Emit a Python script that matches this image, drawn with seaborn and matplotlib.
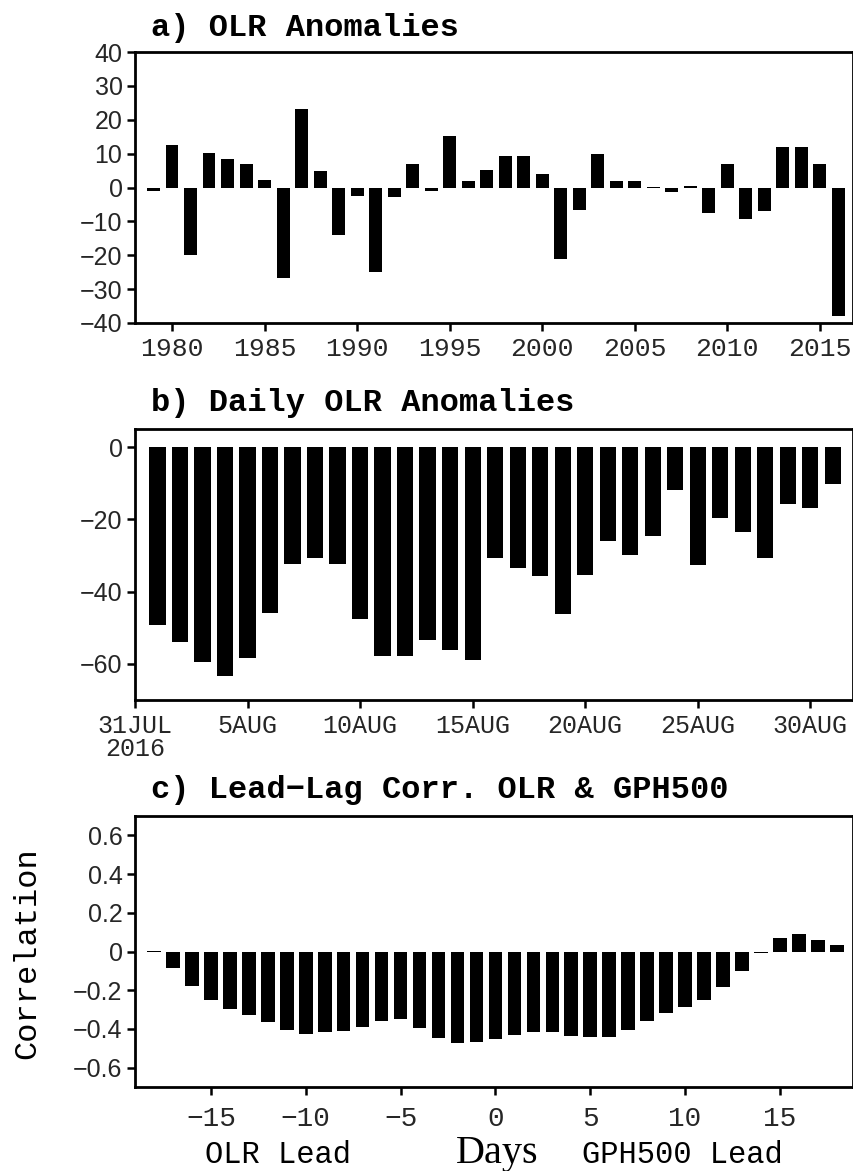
import numpy as np
import pandas as pd
import matplotlib
matplotlib.use("Agg")
import matplotlib.pyplot as plt
import seaborn as sns

# ---------------- data ----------------
years = list(range(1979, 2017))
olr_annual = [-1.0, 12.5, -20.0, 10.2, 8.5, 6.8, 2.2, -26.8, 23.3, 5.0,
              -13.9, -2.6, -25.0, -2.8, 7.0, -1.1, 15.2, 1.8, 5.3, 9.4,
              9.4, 4.1, -21.2, -6.5, 10.0, 1.8, 2.0, 0.2, -1.4, 0.3,
              -7.5, 7.0, -9.2, -6.8, 12.0, 12.0, 7.0, -37.8]

days_aug = list(range(1, 32))  # 1AUG .. 31AUG (0 = 31JUL)
olr_daily = [-49.3, -53.9, -59.6, -63.4, -58.3, -46.0, -32.3, -30.8, -32.4, -47.6,
             -57.8, -57.8, -53.4, -56.1, -58.8, -30.6, -33.5, -35.8, -46.3, -35.5,
             -25.9, -29.9, -24.7, -11.8, -32.7, -19.6, -23.5, -30.7, -15.8, -16.8,
             -10.1]
daily_tick_pos = [0, 5, 10, 15, 20, 25, 30]
daily_tick_labels = ["31JUL\n2016", "5AUG", "10AUG", "15AUG", "20AUG", "25AUG", "30AUG"]

lags = list(range(-18, 19))
corr = [0.004, -0.085, -0.178, -0.251, -0.296, -0.327, -0.366, -0.407, -0.424, -0.416,
        -0.409, -0.392, -0.360, -0.348, -0.395, -0.445, -0.473, -0.468, -0.450, -0.431,
        -0.414, -0.414, -0.438, -0.442, -0.442, -0.407, -0.359, -0.317, -0.288, -0.248,
        -0.184, -0.100, -0.010, 0.070, 0.090, 0.060, 0.035]

titles = ["a) OLR Anomalies", "b) Daily OLR Anomalies", "c) Lead\u2212Lag Corr. OLR & GPH500"]

# ---------------- style ----------------
sns.set_theme(style="ticks")
plt.rcParams["font.family"] = ["Liberation Sans", "DejaVu Sans"]
plt.rcParams["axes.unicode_minus"] = True

W, H = 854, 1171
fig = plt.figure(figsize=(W / 100, H / 100), dpi=100)


def rect(l, t, r, b):
    return [l / W, 1 - b / H, (r - l) / W, (b - t) / H]


MONO = ["Liberation Mono", "DejaVu Sans Mono"]
SANS = ["Liberation Sans", "DejaVu Sans"]
SERIF = ["Liberation Serif", "DejaVu Serif"]


def style_axes(ax, xfont_size, xfamily):
    for s in ax.spines.values():
        s.set_visible(True)
        s.set_linewidth(2.0)
        s.set_color("black")
    ax.tick_params(axis="both", which="major", direction="out", length=6, width=1.8,
                   color="black", top=False, right=False)
    ax.tick_params(axis="y", labelsize=18, pad=3)
    ax.tick_params(axis="x", labelsize=xfont_size, pad=4)
    for lab in ax.get_yticklabels():
        lab.set_family(SANS)
    for lab in ax.get_xticklabels():
        lab.set_family(xfamily)
    ax.set_xlabel("")
    ax.set_ylabel("")
    ax.grid(False)
    ax.set_facecolor("white")


# ---- panel a ----
axa = fig.add_axes(rect(135, 52, 853, 323))
sns.barplot(x=years, y=olr_annual, native_scale=True, color="black", saturation=1,
            width=0.7, linewidth=0, ax=axa)
axa.set_xlim(1978, 2016.8)
axa.set_ylim(-40, 40)
axa.set_yticks(np.arange(-40, 41, 10))
axa.set_xticks(list(range(1980, 2016, 5)))
axa.set_xticklabels([str(y) for y in range(1980, 2016, 5)])
style_axes(axa, 19, MONO)

# ---- panel b ----
axb = fig.add_axes(rect(135, 429, 853, 700))
sns.barplot(x=days_aug, y=olr_daily, native_scale=True, color="black", saturation=1,
            width=0.72, linewidth=0, ax=axb)
axb.set_xlim(0, 31.9)
axb.set_ylim(-70, 5)
axb.set_yticks([0, -20, -40, -60])
axb.set_xticks(daily_tick_pos)
axb.set_xticklabels(daily_tick_labels, linespacing=0.95)
style_axes(axb, 18, MONO)

# ---- panel c ----
axc = fig.add_axes(rect(135, 816, 853, 1087))
sns.barplot(x=lags, y=corr, native_scale=True, color="black", saturation=1,
            width=0.72, linewidth=0, ax=axc)
axc.set_xlim(-19, 18.85)
axc.set_ylim(-0.7, 0.7)
yt = [0.6, 0.4, 0.2, 0.0, -0.2, -0.4, -0.6]
axc.set_yticks(yt)
axc.set_yticklabels(["0" if v == 0 else f"{v:.1f}".replace("-", "\u2212") for v in yt])
xt = [-15, -10, -5, 0, 5, 10, 15]
axc.set_xticks(xt)
axc.set_xticklabels([str(v).replace("-", "\u2212") for v in xt])
style_axes(axc, 20, MONO)
axc.tick_params(axis="x", pad=8)

# ---- titles and labels ----
for t, y in zip(titles, [28, 403, 790]):
    fig.text(151 / W, 1 - y / H, t, ha="left", va="center", fontsize=23,
             family=MONO, fontweight="bold", color="black")

fig.text(27 / W, 1 - 953 / H, "Correlation", rotation=90, ha="center", va="center",
         fontsize=23, family=MONO, color="black")
fig.text(278 / W, 1 - 1155 / H, "OLR Lead", ha="center", va="center",
         fontsize=22, family=MONO, color="black")
fig.text(682 / W, 1 - 1155 / H, "GPH500 Lead", ha="center", va="center",
         fontsize=22, family=MONO, color="black")
fig.text(497 / W, 1 - 1153 / H, "Days", ha="center", va="center",
         fontsize=29, family=SERIF, color="black")

fig.savefig("out.png", dpi=100, facecolor="white")
